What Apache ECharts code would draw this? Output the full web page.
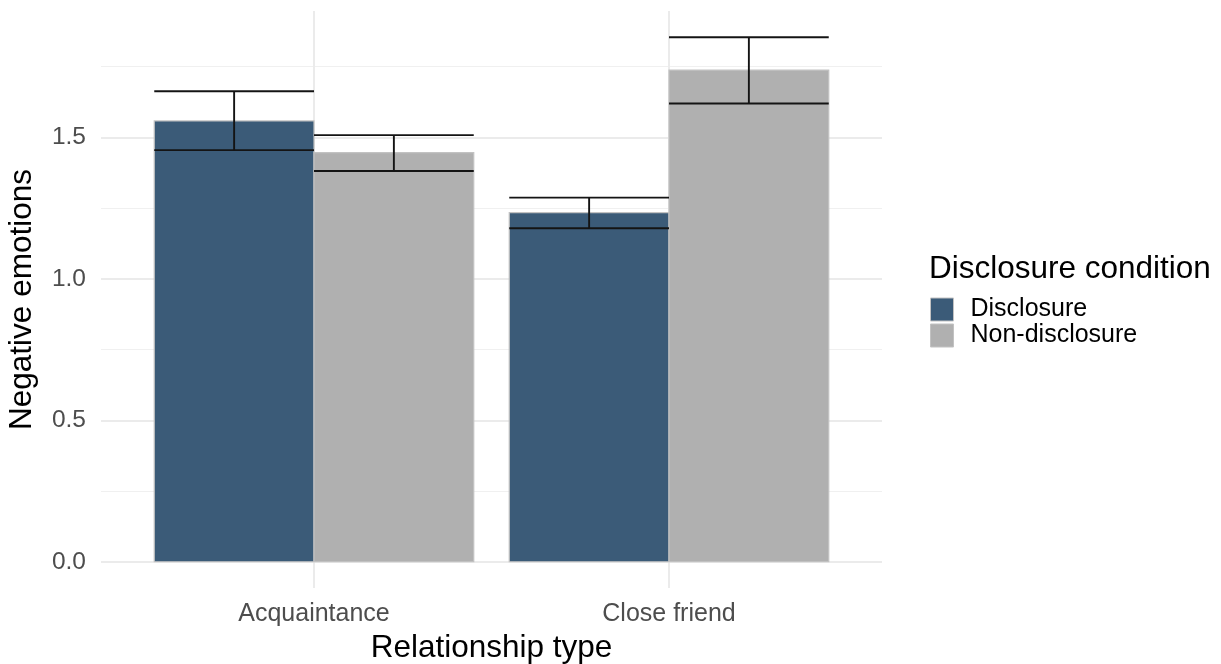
<!DOCTYPE html>
<html>
<head>
<meta charset="utf-8">
<script src="https://cdn.jsdelivr.net/npm/echarts@6/dist/echarts.min.js"></script>
<style>
  html, body { margin: 0; padding: 0; background: #ffffff; }
  #chart { width: 1221px; height: 664px; }
</style>
</head>
<body>
<div id="chart"></div>
<script>
// Relationship types on the x axis and the two disclosure conditions
const categories = ['Acquaintance', 'Close friend'];
const conditions = ['Disclosure', 'Non-disclosure'];

// Mean negative emotions with lower / upper error bounds per relationship type
const disclosureMean = [1.558, 1.234];
const disclosureLow = [1.455, 1.179];
const disclosureHigh = [1.663, 1.287];

const nonDisclosureMean = [1.446, 1.738];
const nonDisclosureLow = [1.381, 1.620];
const nonDisclosureHigh = [1.508, 1.854];

// Y axis tick labels and minor grid positions
const yTicks = [0, 0.5, 1.0, 1.5];
const yMinorTicks = [0.25, 0.75, 1.25, 1.75];

const FONT = '"Liberation Sans", Arial, Helvetica, sans-serif';
const COLORS = { 'Disclosure': '#3b5b78', 'Non-disclosure': '#b0b0b0' };
const BAR_STROKE = '#c2c2c2';
const DODGE = 0.45;          // width of one bar in category units
const HALF = DODGE / 2;

// category positions are 1, 2, ... on a continuous axis
const catPos = categories.map((c, i) => i + 1);

// y range padded by 5% of the data extent
const yDataMax = Math.max(...disclosureHigh, ...nonDisclosureHigh);
const yPad = yDataMax * 0.05;

function barSeries(name, means, offset) {
  return {
    name: name,
    type: 'custom',
    itemStyle: { color: COLORS[name] },
    data: catPos.map((x, i) => [x, means[i]]),
    renderItem: function (params, api) {
      const x = api.value(0) + offset;
      const top = api.coord([x - HALF, api.value(1)]);
      const bottom = api.coord([x + HALF, 0]);
      return {
        type: 'rect',
        shape: { x: top[0], y: top[1], width: bottom[0] - top[0], height: bottom[1] - top[1] },
        style: { fill: COLORS[name], stroke: BAR_STROKE, lineWidth: 1.2 }
      };
    },
    z: 2
  };
}

function errorSeries(id, lows, highs, offset) {
  return {
    id: id,
    type: 'custom',
    data: catPos.map((x, i) => [x, lows[i], highs[i]]),
    renderItem: function (params, api) {
      const x = api.value(0) + offset;
      const lo = api.value(1), hi = api.value(2);
      const l1 = api.coord([x - HALF, lo]), r1 = api.coord([x + HALF, lo]);
      const l2 = api.coord([x - HALF, hi]), r2 = api.coord([x + HALF, hi]);
      const cLo = api.coord([x, lo]), cHi = api.coord([x, hi]);
      const style = { stroke: '#141414', lineWidth: 1.9, fill: null };
      return {
        type: 'group',
        children: [
          { type: 'line', shape: { x1: l1[0], y1: l1[1], x2: r1[0], y2: r1[1] }, style: style },
          { type: 'line', shape: { x1: l2[0], y1: l2[1], x2: r2[0], y2: r2[1] }, style: style },
          { type: 'line', shape: { x1: cLo[0], y1: cLo[1], x2: cHi[0], y2: cHi[1] }, style: style }
        ]
      };
    },
    z: 5
  };
}

const chart = echarts.init(document.getElementById('chart'), null, { renderer: 'canvas' });

chart.setOption({
  animation: false,
  backgroundColor: '#ffffff',
  textStyle: { fontFamily: FONT },
  title: {
    text: 'Disclosure condition',
    left: 929,
    top: 253,
    padding: 0,
    textStyle: { fontFamily: FONT, fontSize: 31.5, fontWeight: 'normal', color: '#000000' }
  },
  legend: {
    orient: 'vertical',
    left: 930,
    top: 297,
    padding: 0,
    itemGap: 1,
    itemWidth: 23,
    itemHeight: 23,
    icon: 'rect',
    selectedMode: false,
    data: conditions.map(n => ({ name: n, itemStyle: { color: COLORS[n], borderColor: BAR_STROKE, borderWidth: 1 } })),
    textStyle: { fontFamily: FONT, fontSize: 25, color: '#000000', lineHeight: 24, padding: [0, 0, 0, 12] }
  },
  grid: { left: 101, right: 339, top: 11, bottom: 76, containLabel: false, outerBoundsMode: 'none' },
  xAxis: {
    type: 'value',
    min: 0.4,
    max: categories.length + 0.6,
    name: 'Relationship type',
    nameLocation: 'middle',
    nameGap: 43,
    nameTextStyle: { fontFamily: FONT, fontSize: 31.5, color: '#000000' },
    axisLine: { show: false },
    axisTick: { show: false, customValues: catPos },
    axisLabel: {
      customValues: catPos,
      formatter: v => categories[Math.round(v) - 1],
      fontFamily: FONT, fontSize: 25, color: '#4d4d4d', margin: 14
    },
    splitLine: { show: true, lineStyle: { color: '#ebebeb', width: 2 } }
  },
  yAxis: [
    {
      type: 'value',
      min: -yPad,
      max: yDataMax + yPad,
      name: 'Negative emotions',
      nameLocation: 'middle',
      nameGap: 63,
      nameTextStyle: { fontFamily: FONT, fontSize: 31.5, color: '#000000' },
      axisLine: { show: false },
      axisTick: { show: false, customValues: yTicks },
      axisLabel: {
        customValues: yTicks,
        formatter: v => v.toFixed(1),
        fontFamily: FONT, fontSize: 24.5, color: '#4d4d4d', margin: 15
      },
      splitLine: { show: true, lineStyle: { color: '#ebebeb', width: 2 } }
    },
    {
      type: 'value',
      min: -yPad,
      max: yDataMax + yPad,
      position: 'left',
      axisLine: { show: false },
      axisTick: { show: false, customValues: yMinorTicks },
      axisLabel: { show: false, customValues: yMinorTicks },
      splitLine: { show: true, lineStyle: { color: '#f0f0f0', width: 1.2 } }
    }
  ],
  series: [
    barSeries('Disclosure', disclosureMean, -HALF),
    barSeries('Non-disclosure', nonDisclosureMean, HALF),
    errorSeries('err-disclosure', disclosureLow, disclosureHigh, -HALF),
    errorSeries('err-nondisclosure', nonDisclosureLow, nonDisclosureHigh, HALF)
  ]
});
</script>
</body>
</html>
